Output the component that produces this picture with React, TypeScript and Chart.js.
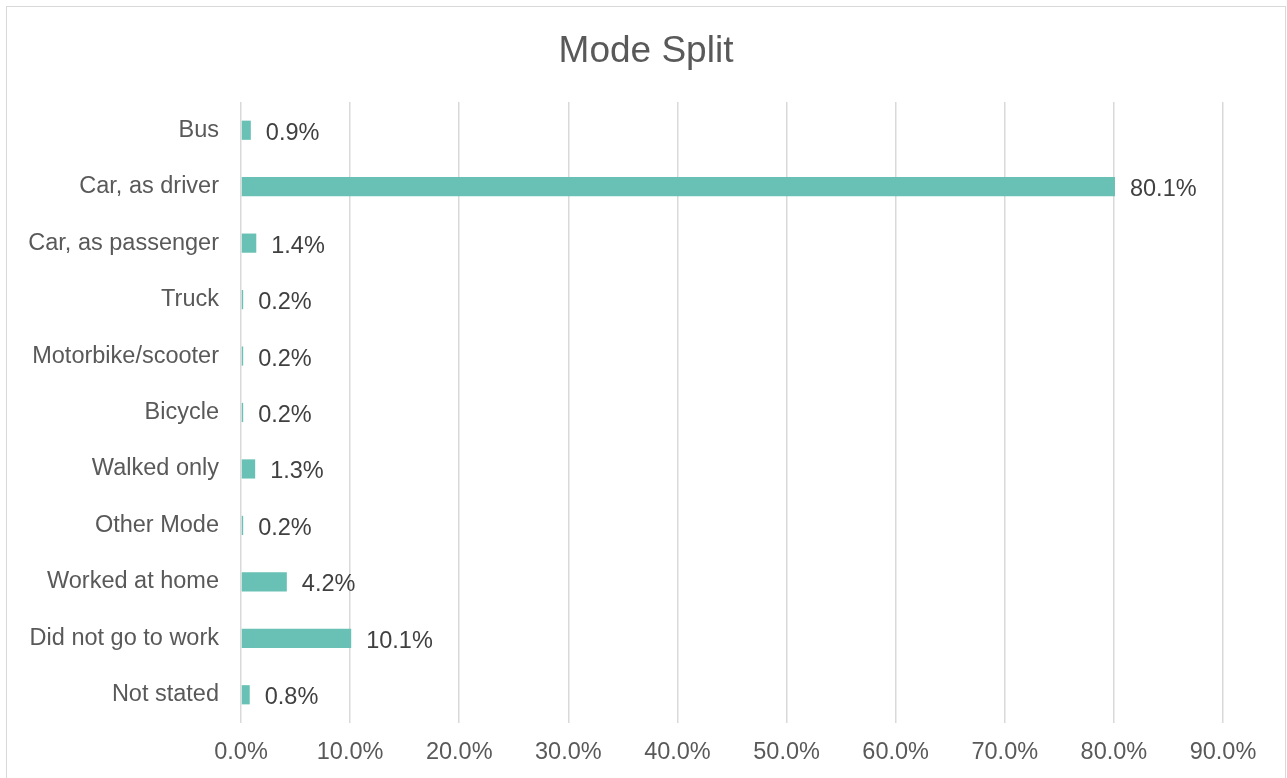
import React, { useEffect, useRef } from 'react';
import { Chart, registerables } from 'chart.js';

Chart.register(...registerables);

const categories = [
  'Bus',
  'Car, as driver',
  'Car, as passenger',
  'Truck',
  'Motorbike/scooter',
  'Bicycle',
  'Walked only',
  'Other Mode',
  'Worked at home',
  'Did not go to work',
  'Not stated',
];
const values = [0.9, 80.1, 1.4, 0.2, 0.2, 0.2, 1.3, 0.2, 4.2, 10.1, 0.8];
const xMin = 0;
const xMax = 90;
const xStep = 10;
const titleText = 'Mode Split';

const FONT = "'Liberation Sans', Arial, sans-serif";
const LABEL_SIZE = 23.5;

const dataLabelPlugin = {
  id: 'dataLabels',
  afterDatasetsDraw(chart: any) {
    const ctx = chart.ctx;
    const meta = chart.getDatasetMeta(0);
    ctx.save();
    ctx.font = `${LABEL_SIZE}px ${FONT}`;
    ctx.fillStyle = '#404040';
    ctx.textAlign = 'left';
    ctx.textBaseline = 'alphabetic';
    meta.data.forEach((el: any, i: number) => {
      const v = chart.data.datasets[0].data[i] as number;
      ctx.fillText(v.toFixed(1) + '%', el.x + 15, el.y + 9.5);
    });
    ctx.restore();
  },
};

const titlePlugin = {
  id: 'customTitle',
  afterDraw(chart: any) {
    const ctx = chart.ctx;
    ctx.save();
    ctx.font = `37px ${FONT}`;
    ctx.fillStyle = '#595959';
    ctx.textAlign = 'center';
    ctx.textBaseline = 'alphabetic';
    ctx.fillText(titleText, 646, 62);
    ctx.restore();
  },
};

export default function App() {
  const ref = useRef<HTMLCanvasElement | null>(null);
  useEffect(() => {
    if (!ref.current) return;
    const chart = new Chart(ref.current, {
      type: 'bar',
      data: {
        labels: categories,
        datasets: [
          {
            data: values,
            backgroundColor: '#68C1B4',
            borderWidth: 0,
            barPercentage: 0.34,
            categoryPercentage: 1,
          },
        ],
      },
      options: {
        indexAxis: 'y',
        responsive: false,
        animation: false,
        layout: { padding: { left: 0, right: 64, top: 102, bottom: 0 } },
        plugins: {
          legend: { display: false },
          tooltip: { enabled: false },
          title: { display: false },
        },
        scales: {
          x: {
            min: xMin,
            max: xMax,
            border: { display: false },
            grid: { color: '#d9d9d9', lineWidth: 1.5, drawTicks: false },
            ticks: {
              stepSize: xStep,
              padding: 15,
              color: '#595959',
              font: { family: FONT, size: LABEL_SIZE },
              callback: (v: any) => Number(v).toFixed(1) + '%',
            },
            afterFit: (scale: any) => {
              scale.height = 55;
            },
          },
          y: {
            border: { display: false },
            grid: { display: false, drawTicks: false },
            ticks: {
              padding: 22,
              color: '#595959',
              font: { family: FONT, size: LABEL_SIZE },
            },
            afterFit: (scale: any) => {
              scale.width = 241;
            },
          },
        },
      },
      plugins: [dataLabelPlugin, titlePlugin],
    });
    return () => chart.destroy();
  }, []);

  return (
    <div style={{ position: 'absolute', left: 0, top: 0, width: 1287, height: 778, overflow: 'hidden', background: '#fff' }}>
      <div
        style={{
          position: 'absolute',
          left: 6,
          top: 6,
          width: 1278,
          height: 800,
          border: '1px solid #d9d9d9',
        }}
      />
      <canvas ref={ref} width={1287} height={778} style={{ position: 'absolute', left: 0, top: 0 }} />
    </div>
  );
}
